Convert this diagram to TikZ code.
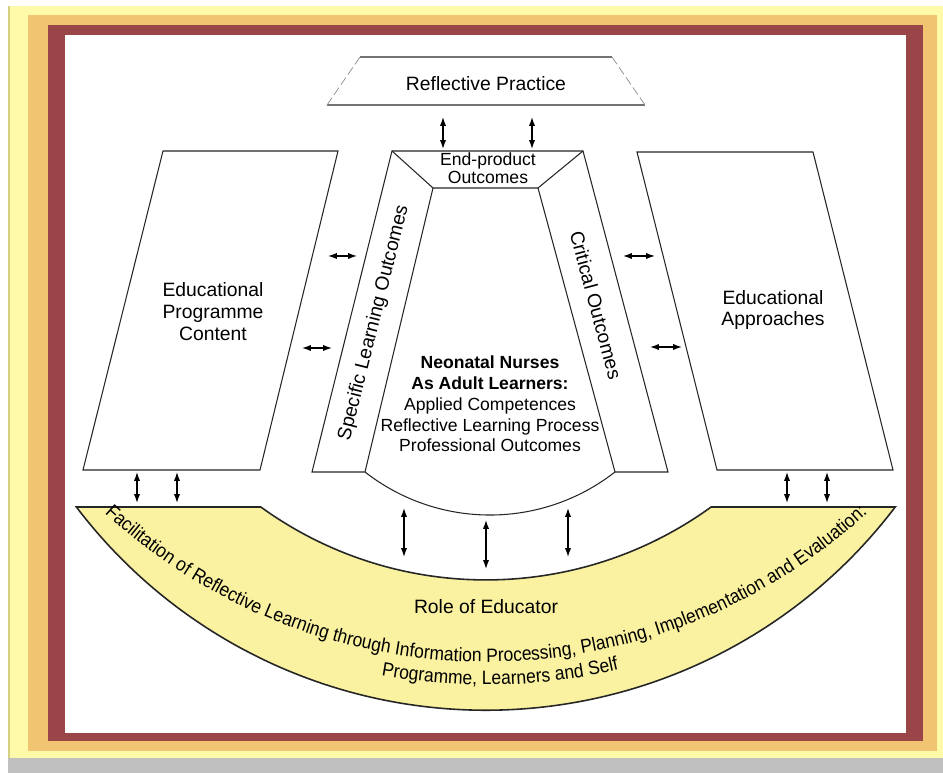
\documentclass[tikz,border=0pt]{standalone}
\usepackage{fontspec}
\setmainfont{Liberation Sans}
\newfontfamily\bandfont[FakeStretch=0.905]{Liberation Sans}
\usetikzlibrary{arrows.meta, decorations.text}
\definecolor{frameyellow}{RGB}{255,249,170}
\definecolor{frameolive}{RGB}{214,208,130}
\definecolor{frameorange}{RGB}{240,196,112}
\definecolor{framered}{RGB}{154,70,72}
\definecolor{framegray}{RGB}{192,192,192}
\definecolor{bandyellow}{RGB}{250,242,160}
\tikzset{%
	box line/.style={
		draw=black!85,
		line width=0.6pt
	},
	both arrow/.style={
		{Latex[length=5pt,width=3.5pt]}-{Latex[length=5pt,width=3.5pt]},
		line width=0.7pt
	},
	label text/.style={
		font=\fontsize{11}{12.5}\selectfont,
		align=center,
		inner sep=0pt
	},
}
\begin{document}
\begin{tikzpicture}[x=0.02cm, y=0.02cm]
			\useasboundingbox (0,0) rectangle (943,773);
			% Draw the frame
			\fill[frameyellow] (8,15) rectangle (943,767);
			\fill[framegray] (8,0) rectangle (943,15);
			\draw[frameolive, line width=1pt] (9,15) -- (9,767);
			\fill[frameorange] (28,22) rectangle (937,758);
			\fill[framered] (48,32) rectangle (923,748);
			\fill[white] (65,40) rectangle (906,738);
			
			% Draw the top trapezium
			\draw[black!55, line width=0.6pt] (360,716) -- (612,716);
			\draw[black!55, line width=0.6pt] (327,668) -- (645,668);
			\draw[black!45, line width=0.4pt, dash pattern=on 5pt off 2pt] (327,668) -- (360,716) (612,716) -- (645,668);
			\node[label text] (practice) at (486,689) {Reflective Practice};
			
			% Draw the left and right boxes
			\draw[box line] (83,303) -- (163,622) -- (338,622) -- (260,303) -- cycle;
			\node[label text] (content) at (213,461) {Educational\\Programme\\Content};
			\draw[box line] (717,303) -- (637,621) -- (813,621) -- (893,303) -- cycle;
			\node[label text] (approaches) at (773,463) {Educational\\Approaches};
			
			% Draw the learner frame
			\draw[box line] (312,301) -- (392,622) -- (583,622) -- (668,301) -- (615,301) -- (538,585) -- (433,585) -- (365,301) -- cycle;
			\draw[box line] (392,622) -- (433,585) (583,622) -- (538,585);
			\draw[box line] (365,301) arc[start angle=232, end angle=308, radius=203];
			\node[font=\fontsize{10}{10}\selectfont, align=center, inner sep=0pt] (endproduct) at (488,605) {End-product\\Outcomes};
			\node[label text, rotate=76] (specific) at (374,450) {Specific Learning Outcomes};
			\node[label text, rotate=-75] (critical) at (596,468) {Critical Outcomes};
			\node[font=\fontsize{10}{11.8}\selectfont, align=center, inner sep=0pt] (learners) at (490,369) {\textbf{Neonatal Nurses}\\\textbf{As Adult Learners:}\\Applied Competences\\Reflective Learning Process\\Professional Outcomes};
			
			% Draw the role band
			\draw[fill=bandyellow, draw=black!85, line width=0.9pt] (76.8,266) -- (260.8,266) arc[start angle=234.1, end angle=305.9, radius=384] -- (895.2,266) arc[start angle=322.8, end angle=217.2, radius=514] -- cycle;
			\node[label text] (educator) at (486,166) {Role of Educator};
			\path[decorate, decoration={text along path, text align=center,
				text={|\fontsize{11}{12}\bandfont|Facilitation of Reflective Learning through Information Processing, Planning, Implementation and Evaluation:}}]
				([shift={(486,674)}]215:563) arc[start angle=215, end angle=325, radius=563];
			\path[decorate, decoration={text along path, text align=center,
				text={|\fontsize{11}{12}\bandfont|Programme, Learners and Self}}]
				([shift={(486,674)}]251.4:586) arc[start angle=251.4, end angle=291.4, radius=586];
			
			% Draw the arrows
			\foreach \x [count=\i] in {443,532} {
				\coordinate (up\i) at (\x,656);
				\coordinate (down\i) at (\x,624);
				\draw[both arrow] (up\i) -- (down\i);
			}
			\foreach \xa/\xb/\y [count=\i] in {328/357/517, 302/332/425, 623/655/517, 650/682/426} {
				\coordinate (sidea\i) at (\xa,\y);
				\coordinate (sideb\i) at (\xb,\y);
				\draw[both arrow] (sidea\i) -- (sideb\i);
			}
			\foreach \x/\ya/\yb [count=\i] in {137/301/270, 177/301/270, 787/301/270, 827/301/270, 404/265/216, 486/253/204, 568/265/216} {
				\coordinate (top\i) at (\x,\ya);
				\coordinate (foot\i) at (\x,\yb);
				\draw[both arrow] (top\i) -- (foot\i);
			}
\end{tikzpicture}
\end{document}
